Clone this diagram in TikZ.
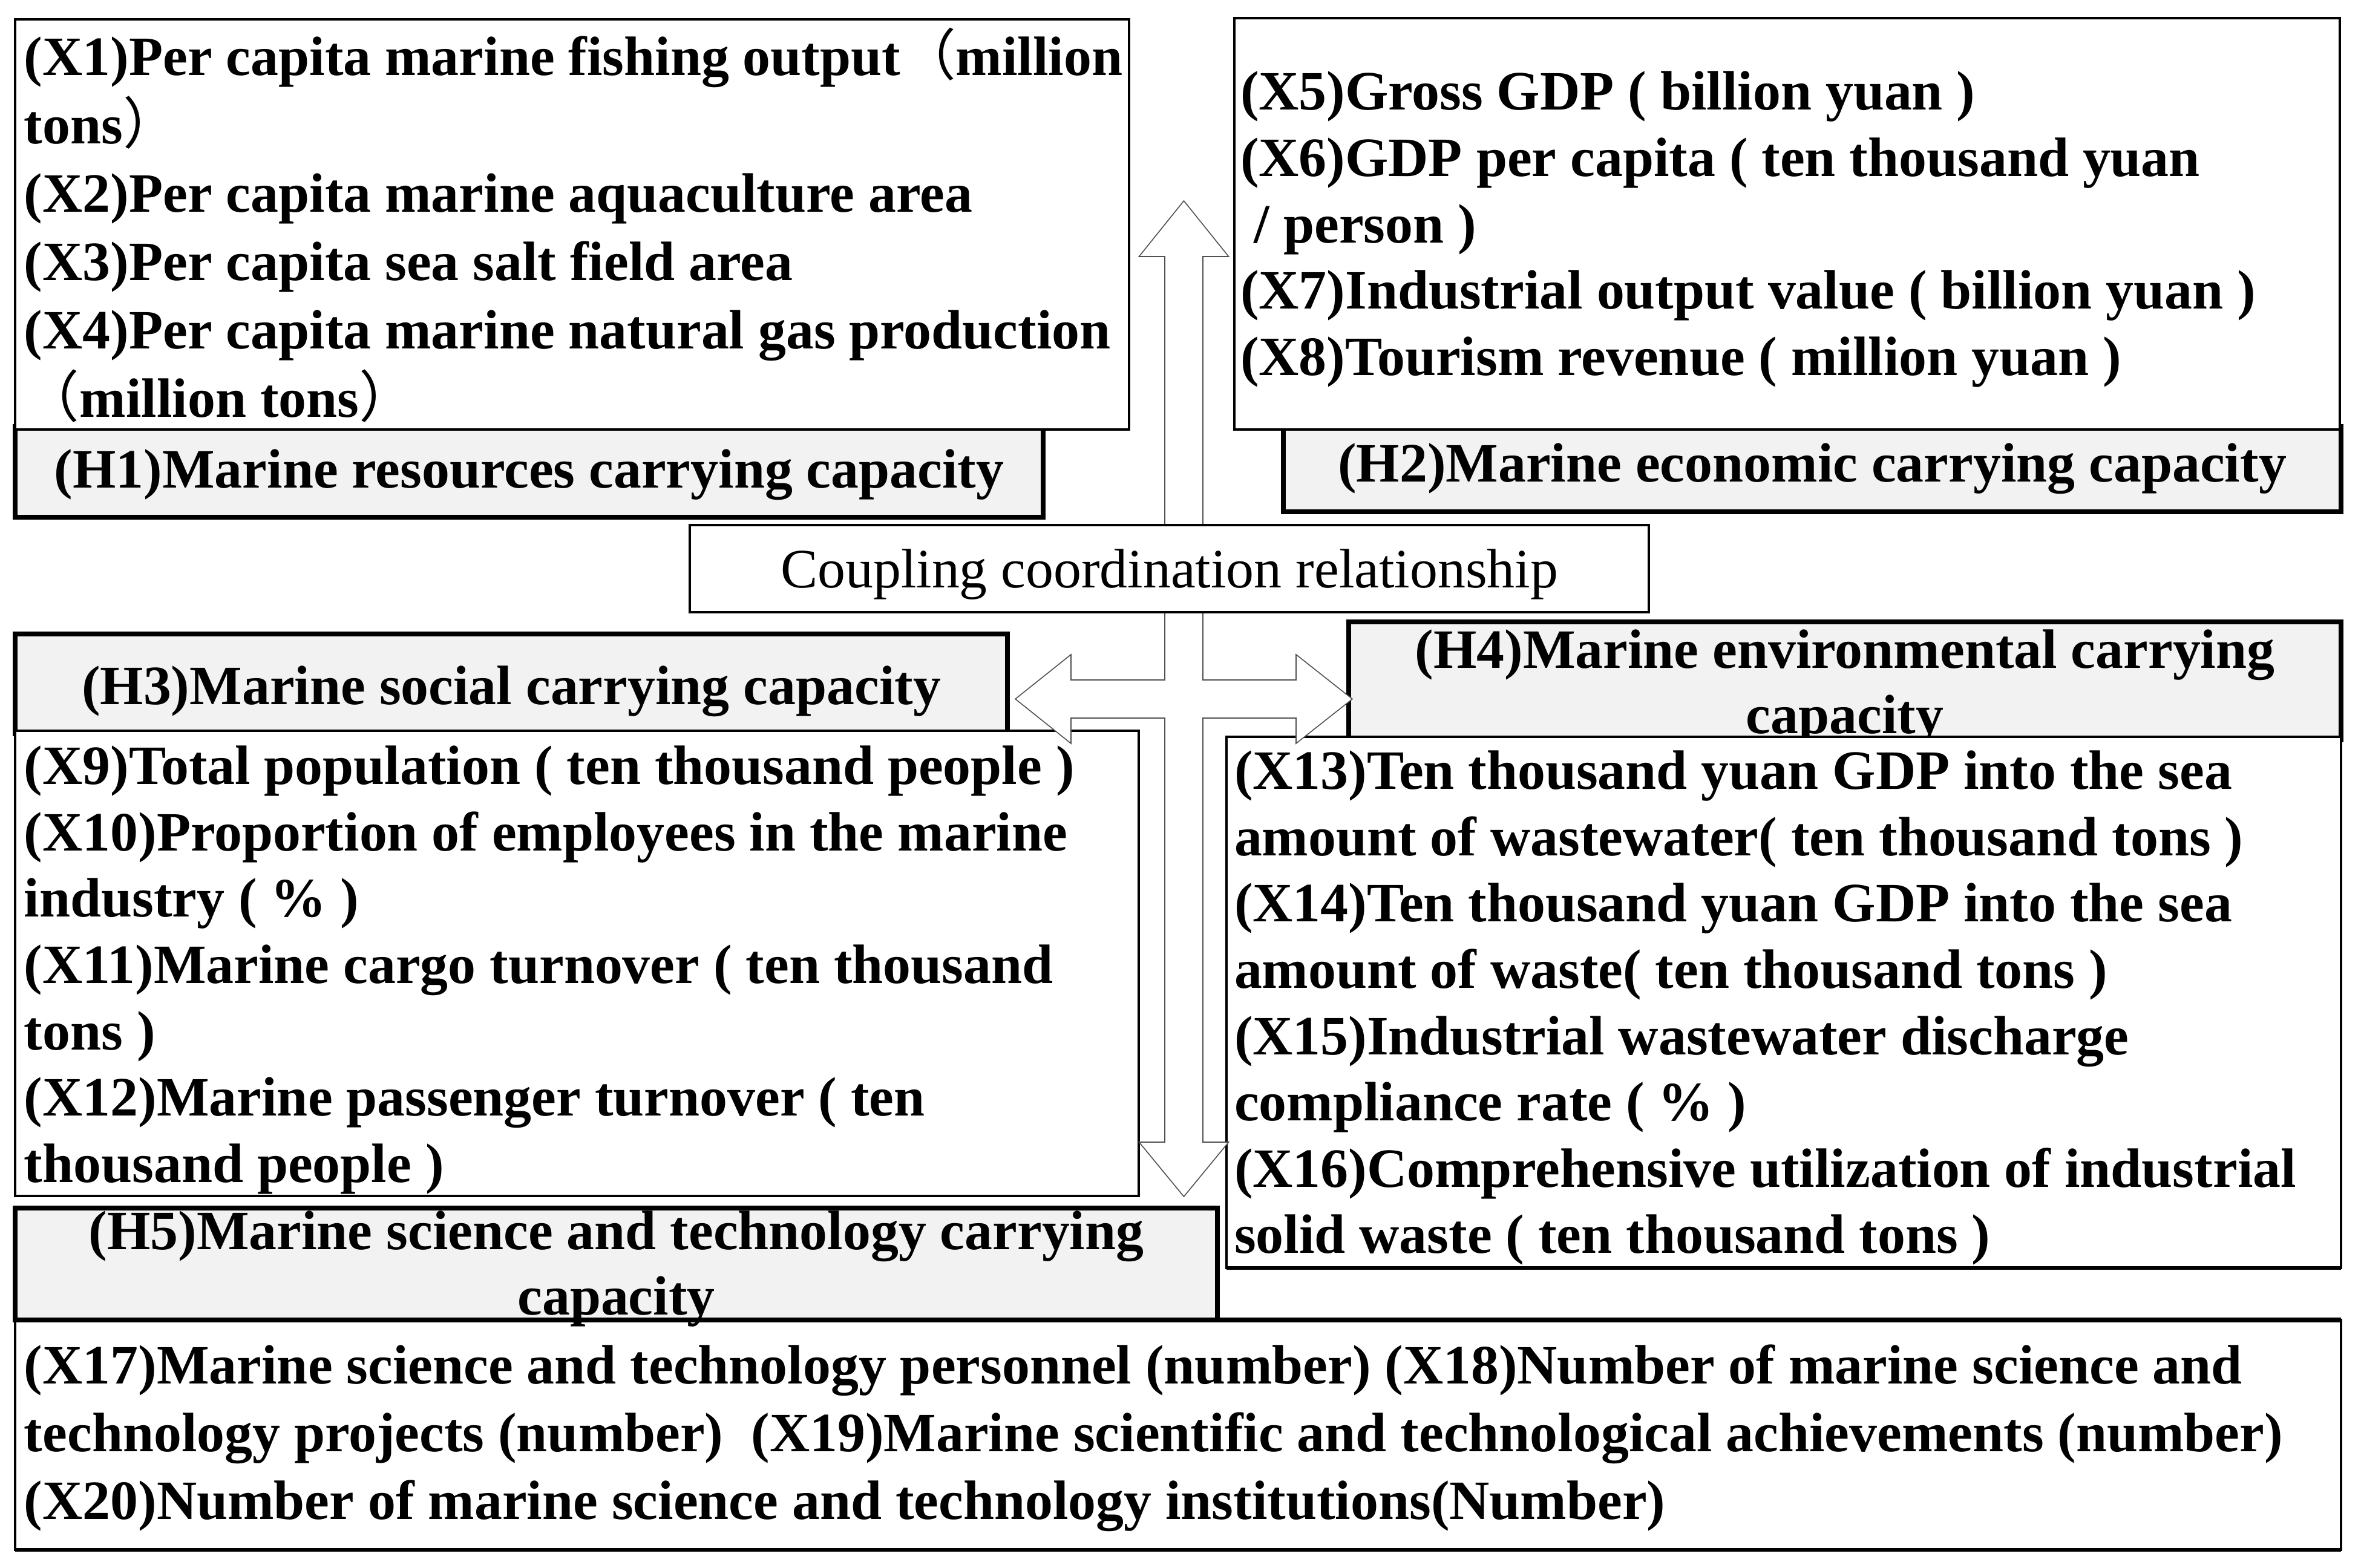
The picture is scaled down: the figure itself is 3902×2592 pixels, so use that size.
\documentclass[tikz,border=0pt]{standalone}
\usepackage{fontspec}
\setmainfont{Liberation Serif}
\newfontfamily\cjkfont{Noto Sans CJK SC}
\usetikzlibrary{fit}
\definecolor{hdrgray}{RGB}{242,242,242}
\definecolor{arrowline}{RGB}{80,80,80}
\newcommand\fwlp{{\cjkfont\mdseries （}}
\newcommand\fwrp{{\cjkfont\mdseries ）}}
\newcommand\txtlines[6]{\foreach \t [count=\i from 0] in {#6} {\node[#2] (#1\i) at (#3,{#4+\i*#5}) {\t};}}
\begin{document}
\begin{tikzpicture}[x=0.01cm,y=-0.01cm,
  every node/.style={inner sep=0pt, outer sep=0pt},
  bodybox/.style={draw=black, line width=1.25pt, fill=white},
  hdrbox/.style={draw=black, line width=2.5pt, fill=hdrgray},
  coupbox/.style={draw=black, line width=1.25pt, fill=white},
  itemtext/.style={anchor=base west, font=\fontsize{26.1pt}{31pt}\selectfont\bfseries},
  hdrtext/.style={anchor=base, font=\fontsize{26.1pt}{31pt}\selectfont\bfseries},
  couptext/.style={anchor=base, font=\fontsize{26.1pt}{31pt}\selectfont},
  crossarrow/.style={draw=arrowline, line width=0.45pt, fill=white, line join=miter}]
\useasboundingbox (0,0) rectangle (3902,2592);
\fill[white] (0,0) rectangle (3902,2592);

% H1 and resources box
\node[hdrbox, fit={(25,705) (1724,855)}] (H1) {};
\node[bodybox, fit={(25,32) (1866,710)}] (R) {};
% H2 and economic box
\node[hdrbox, fit={(2121,705) (3869,846)}] (H2) {};
\node[bodybox, fit={(2040,30) (3867,710)}] (E) {};
% H3 and social box
\node[hdrbox, fit={(25,1048) (1665,1213)}] (H3) {};
\node[bodybox, fit={(25,1208) (1882,1977)}] (S) {};
% H4 and environmental box
\node[hdrbox, fit={(2229,1028) (3869,1223)}] (H4) {};
\txtlines{Hf}{hdrtext}{3049}{1105}{108}{{(H4)Marine environmental carrying},{capacity}}
\node[bodybox, fit={(2027,1218) (3869,2096)}] (V) {};
\draw[line width=1.8pt] (V.south west) -- (V.south east);
% science box and H5
\node[bodybox, fit={(25,2182) (3869,2562)}] (T) {};
\draw[line width=2.5pt] (T.north west) -- (T.north east);
\draw[line width=1.8pt] (T.south west) -- (T.south east);
\node[hdrbox, fit={(25,1997) (2012,2182)}] (H5) {};

% four-way arrow
\path[crossarrow] (1956.5,332) -- (2030.5,424) -- (1988,424) -- (1988,1124)
  -- (2142,1124) -- (2142,1082) -- (2235,1155.5) -- (2142,1229) -- (2142,1187)
  -- (1988,1187) -- (1988,1888) -- (2030.5,1888) -- (1956.5,1978) -- (1882.5,1888)
  -- (1925,1888) -- (1925,1187) -- (1770,1187) -- (1770,1229) -- (1678,1155.5)
  -- (1770,1082) -- (1770,1124) -- (1925,1124) -- (1925,424) -- (1882.5,424) -- cycle;

% coupling box
\node[coupbox, fit={(1140,868) (2725,1012)}] (C) {};
\node[couptext] (Ct) at (1932.5,972) {Coupling coordination relationship};

% header texts
\node[hdrtext] (H1t) at (874.5,807) {(H1)Marine resources carrying capacity};
\node[hdrtext] (H2t) at (2995,797) {(H2)Marine economic carrying capacity};
\node[hdrtext] (H3t) at (845,1165) {(H3)Marine social carrying capacity};
\txtlines{Hv}{hdrtext}{1018.5}{2065}{108}{{(H5)Marine science and technology carrying},{capacity}}

% item texts
\txtlines{Rt}{itemtext}{40}{125}{113}{{(X1)Per capita marine fishing output\fwlp million},{tons\fwrp},{(X2)Per capita marine aquaculture area},{(X3)Per capita sea salt field area},{(X4)Per capita marine natural gas production},{\fwlp million tons\fwrp}}
\txtlines{Et}{itemtext}{2050}{182}{109.6}{{(X5)Gross GDP ( billion yuan )},{(X6)GDP per capita ( ten thousand yuan},{\ / person )},{(X7)Industrial output value ( billion yuan )},{(X8)Tourism revenue ( million yuan )}}
\txtlines{St}{itemtext}{40}{1297}{109.5}{{(X9)Total population ( ten thousand people )},{(X10)Proportion of employees in the marine},{industry ( \% )},{(X11)Marine cargo turnover ( ten thousand},{tons )},{(X12)Marine passenger turnover ( ten},{thousand people )}}
\txtlines{Vt}{itemtext}{2040}{1305}{109.5}{{(X13)Ten thousand yuan GDP into the sea},{amount of wastewater( ten thousand tons )},{(X14)Ten thousand yuan GDP into the sea},{amount of waste( ten thousand tons )},{(X15)Industrial wastewater discharge},{compliance rate ( \% )},{(X16)Comprehensive utilization of industrial},{solid waste ( ten thousand tons )}}
\txtlines{Tt}{itemtext}{40}{2287}{112}{{(X17)Marine science and technology personnel (number) (X18)Number of marine science and},{technology projects (number)\ \ (X19)Marine scientific and technological achievements (number)},{(X20)Number of marine science and technology institutions(Number)}}
\end{tikzpicture}
\end{document}
